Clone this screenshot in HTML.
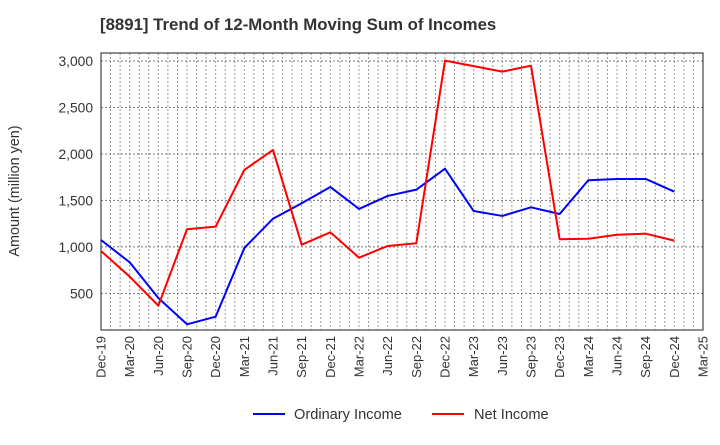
<!DOCTYPE html>
<html><head><meta charset="utf-8"><style>
body{margin:0;background:#fff;font-family:"Liberation Sans",Arial,sans-serif;}
svg text{font-family:"Liberation Sans",Arial,sans-serif;}
</style></head><body>
<svg id="chart" width="720" height="440" xmlns="http://www.w3.org/2000/svg">
<text x="100" y="30" font-size="16.8" font-weight="bold" fill="#333">[8891]  Trend of 12-Month Moving Sum of Incomes</text>
<text transform="translate(19,191) rotate(-90)" text-anchor="middle" font-size="14.4" fill="#333">Amount (million yen)</text>
<g id="grid"></g><g id="axes"></g><g id="series"></g>
<g>
<line x1="253" y1="414" x2="285" y2="414" stroke="#0000ff" stroke-width="2"/>
<text x="294" y="419" font-size="14.6" fill="#333">Ordinary Income</text>
<line x1="432" y1="414" x2="464" y2="414" stroke="#ff0000" stroke-width="2"/>
<text x="474" y="419" font-size="14.6" fill="#333">Net Income</text>
</g>
</svg>
<script>
const categories=["Dec-19","Mar-20","Jun-20","Sep-20","Dec-20","Mar-21","Jun-21","Sep-21","Dec-21","Mar-22","Jun-22","Sep-22","Dec-22","Mar-23","Jun-23","Sep-23","Dec-23","Mar-24","Jun-24","Sep-24","Dec-24","Mar-25"];
const ordinaryIncome=[1074,834,450,167,249,988,1303,1470,1645,1408,1548,1616,1842,1386,1333,1426,1354,1717,1731,1731,1594];
const netIncome=[956,680,367,1190,1218,1828,2043,1024,1157,884,1010,1039,3004,2945,2886,2950,1082,1088,1131,1142,1067];
const yTicks=[500,1000,1500,2000,2500,3000];
const L=101,R=703,T=53,B=330;
const NS="http://www.w3.org/2000/svg";
const xs=i=>L+(R-L)*i/(categories.length-1);
const ys=v=>339.8-v*(293.3-61)/2500;
function mk(tag,attrs,parent){const e=document.createElementNS(NS,tag);for(const k in attrs)e.setAttribute(k,attrs[k]);parent.appendChild(e);return e;}
const grid=document.getElementById('grid'),axes=document.getElementById('axes'),series=document.getElementById('series');
for(let m=1;m<(categories.length-1)*3;m++){const x=L+(R-L)*m/((categories.length-1)*3);
const l=mk('line',{x1:x,x2:x,y1:T,y2:B,stroke:'#999','stroke-dasharray':'2,2','stroke-width':1},grid);

}
yTicks.forEach(v=>{const y=ys(v);
const l=mk('line',{x1:L,x2:R,y1:y,y2:y,stroke:'#777','stroke-dasharray':'2,2','stroke-width':1},grid);


const t=mk('text',{x:L-8,y:y+5,'text-anchor':'end','font-size':13.8,fill:'#333'},axes);t.textContent=v.toLocaleString('en-US');

});
const fr=mk('rect',{x:L,y:T,width:R-L,height:B-T,fill:'none',stroke:'#444','stroke-width':1.2},axes);


categories.forEach((c,i)=>{const x=xs(i);
const t=mk('text',{transform:`translate(${x+4.5},${B+6}) rotate(-90)`,'text-anchor':'end','font-size':13,fill:'#333'},axes);t.textContent=c;

});
function line(data,color,name){const p=mk('polyline',{points:data.map((v,i)=>xs(i)+','+ys(v)).join(' '),fill:'none',stroke:color,'stroke-width':2,'stroke-linejoin':'round'},series);

}
line(ordinaryIncome,'#0000ff','ordinary-income-line');
line(netIncome,'#ff0000','net-income-line');
</script>
</body></html>
